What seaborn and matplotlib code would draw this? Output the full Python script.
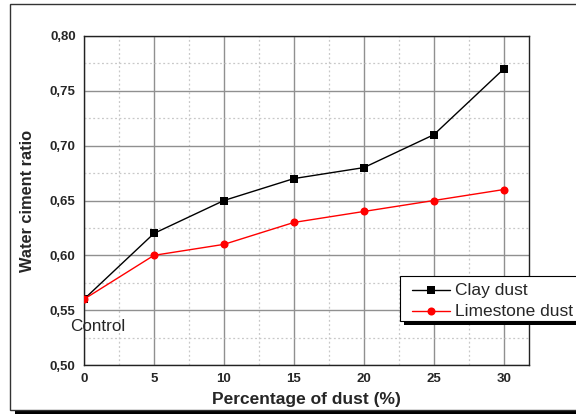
import matplotlib
matplotlib.use("Agg")
import matplotlib.pyplot as plt
import seaborn as sns
import pandas as pd
from matplotlib.patches import Rectangle
from matplotlib.lines import Line2D
from matplotlib.ticker import MultipleLocator, FuncFormatter

dust_pct = [0, 5, 10, 15, 20, 25, 30]
clay_dust = [0.56, 0.62, 0.65, 0.67, 0.68, 0.71, 0.77]
limestone_dust = [0.56, 0.60, 0.61, 0.63, 0.64, 0.65, 0.66]

df = pd.DataFrame({
    "pct": dust_pct * 2,
    "ratio": clay_dust + limestone_dust,
    "series": ["Clay dust"] * len(dust_pct) + ["Limestone dust"] * len(dust_pct),
})

sns.set_style("white")
plt.rcParams["font.family"] = ["Liberation Sans", "DejaVu Sans"]

fig = plt.figure(figsize=(5.76, 4.18), dpi=100)
W, H = 576, 418
ax = fig.add_axes([84 / W, 1 - 365 / H, (529 - 84) / W, (365 - 36) / H])
ax.set_zorder(2)

# outer frame with shadow
fig.patches.append(Rectangle((15 / W, 1 - 414 / H), 1.0, 4.5 / H, transform=fig.transFigure,
                             facecolor="black", edgecolor="none", zorder=0))
fig.patches.append(Rectangle((10 / W, 1 - 409.5 / H), 1.0, 406 / H, transform=fig.transFigure,
                             facecolor="white", edgecolor="#333333", linewidth=1.0, zorder=0.5))

sns.lineplot(data=df, x="pct", y="ratio", hue="series", style="series",
             palette={"Clay dust": "black", "Limestone dust": "red"},
             markers={"Clay dust": "s", "Limestone dust": "o"},
             dashes=False, markersize=5.8, linewidth=1.0, markeredgewidth=0,
             ax=ax, legend=False, zorder=3)

ax.set_xlim(0, 31.8)
ax.set_ylim(0.50, 0.80)
ax.xaxis.set_major_locator(MultipleLocator(5))
ax.xaxis.set_minor_locator(MultipleLocator(2.5))
ax.yaxis.set_major_locator(MultipleLocator(0.05))
ax.yaxis.set_minor_locator(MultipleLocator(0.025))
ax.yaxis.set_major_formatter(FuncFormatter(lambda v, p: f"{v:.2f}".replace(".", ",")))
ax.grid(which="major", color="#909090", linewidth=1.0, linestyle="-")
ax.grid(which="minor", color="#c8c8c8", linewidth=0.9, linestyle=(0, (1.5, 2)))
ax.set_axisbelow(True)
ax.tick_params(which="both", length=0, pad=6)
for lab in ax.get_xticklabels() + ax.get_yticklabels():
    lab.set_fontweight("bold")
    lab.set_fontsize(9.5)
for s in ax.spines.values():
    s.set_color("#222222")
    s.set_linewidth(1.0)

ax.set_xlabel("Percentage of dust (%)", fontsize=12.5, fontweight="bold", labelpad=5)
ax.set_ylabel("Water ciment ratio", fontsize=11.8, fontweight="bold", labelpad=11)

ax.text(-1.0, 0.535, "Control", fontsize=12.3, ha="left", va="center", zorder=5, clip_on=False)

# legend (box with shadow), extends beyond the axes to figure edge
lx0, ly0, lx1, ly1 = 400 / W, 1 - 321 / H, 1.0, 1 - 276 / H
fig.patches.append(Rectangle((lx0 + 4 / W, ly0 - 4 / H), lx1 - lx0, ly1 - ly0, transform=fig.transFigure,
                             facecolor="black", edgecolor="none", zorder=10))
fig.patches.append(Rectangle((lx0, ly0), lx1 - lx0 + 0.01, ly1 - ly0, transform=fig.transFigure,
                             facecolor="white", edgecolor="black", linewidth=0.8, zorder=11))
for i, (name, col, mk) in enumerate([("Clay dust", "black", "s"), ("Limestone dust", "red", "o")]):
    yy = 1 - (290 if i == 0 else 311) / H
    fig.lines.append(Line2D([412 / W, 450 / W], [yy, yy], transform=fig.transFigure,
                            color=col, linewidth=1.0, zorder=12))
    fig.lines.append(Line2D([431 / W], [yy], transform=fig.transFigure, color=col,
                            marker=mk, markersize=5.8, markeredgewidth=0, linestyle="none", zorder=12))
    fig.text(455 / W, yy, name, fontsize=12.5, va="center", ha="left", zorder=13)

fig.savefig("out.png", dpi=100)
